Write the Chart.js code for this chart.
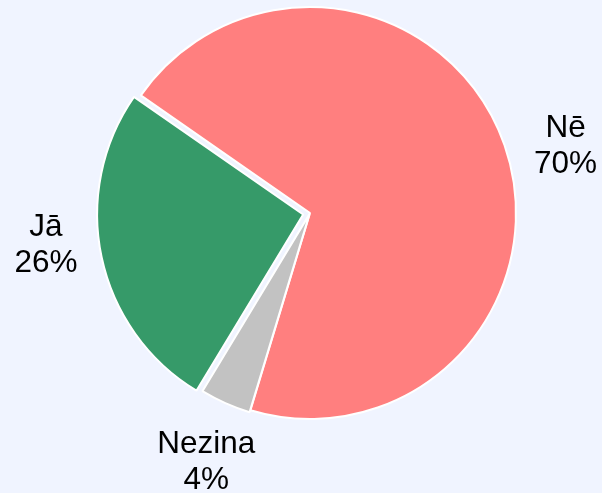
<!DOCTYPE html>
<html>
<head>
<meta charset="utf-8">
<script src="https://cdn.jsdelivr.net/npm/chart.js@4"></script>
<style>
  html, body { margin: 0; padding: 0; background: #F0F4FF; }
  #wrap { width: 602px; height: 493px; }
</style>
</head>
<body>
<div id="wrap"><canvas id="pieChart" width="602" height="493"></canvas></div>
<script>
// Answers, in drawing order (clockwise from the top-left cut)
const categories = ["Nē", "Nezina", "Jā"];
const shares = [70, 4, 26];

// Styles
const sliceColors = ["#FF7F7F", "#C2C2C2", "#369A69"];
const sliceOffsets = [0, 5, 28]; // Chart.js offset units (px * 4)
const labelFont = '31.5px "Liberation Sans", Arial, sans-serif';
const lineHeight = 36;
const labelGap = 32;

// Draws "name / percent" outside each slice, along its bisector
const outsideLabels = {
  id: "outsideLabels",
  afterDatasetsDraw(chart) {
    const ctx = chart.ctx;
    const meta = chart.getDatasetMeta(0);
    ctx.save();
    ctx.font = labelFont;
    ctx.fillStyle = "#000000";
    ctx.textAlign = "center";
    ctx.textBaseline = "middle";
    meta.data.forEach((arc, i) => {
      const p = arc.getProps(["x", "y", "startAngle", "endAngle", "outerRadius"], true);
      const mid = (p.startAngle + p.endAngle) / 2;
      const cos = Math.cos(mid);
      const sin = Math.sin(mid);
      const lines = [categories[i], shares[i] + "%"];
      const hw = Math.max(...lines.map((t) => ctx.measureText(t).width)) / 2;
      const hh = (lines.length * lineHeight) / 2;
      const dist = p.outerRadius + labelGap;
      // push the box out until its edge sits on the bisector
      const t = Math.min(hw / Math.max(Math.abs(cos), 1e-6), hh / Math.max(Math.abs(sin), 1e-6));
      const lx = p.x + cos * (dist + t) - Math.sign(cos) * hw * 0.22 * sin * sin;
      const ly = p.y + sin * (dist + t) - Math.sign(sin) * hh * 0.7 * cos * cos;
      lines.forEach((txt, k) => {
        ctx.fillText(txt, lx, ly + (k - (lines.length - 1) / 2) * lineHeight);
      });
    });
    ctx.restore();
  },
};

const ctx = document.getElementById("pieChart").getContext("2d");
new Chart(ctx, {
  type: "pie",
  data: {
    labels: categories,
    datasets: [
      {
        data: shares,
        backgroundColor: sliceColors,
        borderColor: "#FFFFFF",
        borderWidth: 2,
        offset: sliceOffsets,
      },
    ],
  },
  options: {
    responsive: false,
    animation: false,
    rotation: -55.2,
    radius: 206,
    layout: { padding: { left: 18, right: 0, top: 0, bottom: 67 } },
    plugins: {
      legend: { display: false },
      tooltip: { enabled: false },
    },
  },
  plugins: [outsideLabels],
});
</script>
</body>
</html>
